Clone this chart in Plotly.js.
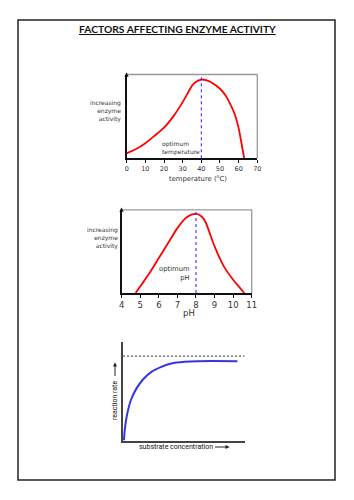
<!DOCTYPE html>
<html>
<head>
<meta charset="utf-8">
<script src="https://cdn.plot.ly/plotly-3.0.1.min.js"></script>
<style>html,body{margin:0;padding:0;background:#fff;}#chart{width:354px;height:500px;}</style>
</head>
<body>
<div id="chart"></div>
<script>
// ---- Data ----
var chartTitle = "FACTORS AFFECTING ENZYME ACTIVITY";

// Temperature chart
var tempC      = [0, 5, 10, 15, 20, 25, 30, 33, 35, 37, 40, 43, 45, 50, 53, 55, 58, 60, 62, 63];
var tempActivity = [6, 11, 18, 27, 36.5, 50, 67, 79, 86.5, 91, 94, 93, 91, 83, 75, 67, 52, 36, 12, 0];
var tempTicks  = [0, 10, 20, 30, 40, 50, 60, 70];
var optimumTemp = 40;

// pH chart
var pHValues   = [4.75, 5, 5.5, 6, 6.5, 7, 7.5, 8, 8.3, 8.5, 9, 9.5, 10, 10.3, 10.6];
var pHActivity = [0, 8, 24, 42, 60, 78, 91, 95, 92, 86, 56, 32, 16, 8, 0];
var pHTicks    = [4, 5, 6, 7, 8, 9, 10, 11];
var optimumPH  = 8;

// Substrate concentration chart (arbitrary units)
var substrateConc = [0.8, 1.4, 2.7, 4.1, 6.8, 11, 16.4, 23.3, 31.5, 39.7, 50.7, 61.6, 94];
var reactionRate  = [0, 10, 22, 30.5, 42, 52.5, 61.7, 69.5, 74.6, 78, 79.7, 80.3, 80.3];
var vmaxLevel     = 85.4;
var vmaxSpan      = [0, 100];

// ---- Layout helpers (pixel -> paper) ----
var W = 354, H = 500;
function px(x){ return x / W; }
function py(y){ return 1 - y / H; }

var tickFontS = {family: "DejaVu Sans", size: 6.5, color: "#333"};
var labelFont = {family: "DejaVu Sans", size: 6, color: "#333"};
var narrow = "Roboto, Liberation Sans, sans-serif";

var traces = [
  {x: tempC, y: tempActivity, xaxis: "x", yaxis: "y", mode: "lines",
   line: {color: "#ff0000", width: 1.8, shape: "spline", smoothing: 0.8}, hoverinfo: "skip"},
  {x: [optimumTemp, optimumTemp], y: [0, 100], xaxis: "x", yaxis: "y", mode: "lines",
   line: {color: "#2020ff", width: 1, dash: "dot"}, hoverinfo: "skip"},
  {x: pHValues, y: pHActivity, xaxis: "x2", yaxis: "y2", mode: "lines",
   line: {color: "#ff0000", width: 1.8, shape: "spline", smoothing: 0.8}, hoverinfo: "skip"},
  {x: [optimumPH, optimumPH], y: [0, 100], xaxis: "x2", yaxis: "y2", mode: "lines",
   line: {color: "#2020ff", width: 1, dash: "dot"}, hoverinfo: "skip"},
  {x: vmaxSpan, y: [vmaxLevel, vmaxLevel], xaxis: "x3", yaxis: "y3", mode: "lines",
   line: {color: "#333", width: 1, dash: "2px,2px"}, hoverinfo: "skip"},
  {x: substrateConc, y: reactionRate, xaxis: "x3", yaxis: "y3", mode: "lines",
   line: {color: "#3535dd", width: 2, shape: "spline", smoothing: 0.8}, hoverinfo: "skip"}
];

function baseX(extra){
  var o = {showgrid: false, zeroline: false, showline: true, linecolor: "#111", linewidth: 1.5,
           ticks: "outside", ticklen: 3, tickcolor: "#111", tickwidth: 1, fixedrange: true};
  for (var k in extra) o[k] = extra[k];
  return o;
}
function baseY(extra){
  var o = {showgrid: false, zeroline: false, showline: true, linecolor: "#111", linewidth: 1.5,
           ticks: "", showticklabels: false, fixedrange: true, range: [0, 100]};
  for (var k in extra) o[k] = extra[k];
  return o;
}

var layout = {
  width: W, height: H,
  margin: {l: 0, r: 0, t: 0, b: 0},
  paper_bgcolor: "#fff", plot_bgcolor: "rgba(0,0,0,0)",
  showlegend: false,
  xaxis: baseX({domain: [px(126.7), px(257.3)], range: [0, 70], tickvals: tempTicks,
                ticktext: tempTicks.map(String), tickfont: tickFontS, anchor: "y"}),
  yaxis: baseY({domain: [py(158.3), py(74.5)], anchor: "x"}),
  xaxis2: baseX({domain: [px(121.7), px(251.7)], range: [4, 11], tickvals: pHTicks,
                 ticktext: pHTicks.map(String),
                 tickfont: {family: "DejaVu Sans", size: 8.5, color: "#333"}, anchor: "y2"}),
  yaxis2: baseY({domain: [py(293), py(209.8)], anchor: "x2"}),
  xaxis3: baseX({domain: [px(123), px(244.7)], range: [0, 100], ticks: "", showticklabels: false,
                 linecolor: "#444", linewidth: 2, anchor: "y3"}),
  yaxis3: baseY({domain: [py(440.5), py(341.7)], linecolor: "#444", linewidth: 2, anchor: "x3"}),
  shapes: [
    // outer page border
    {type: "rect", xref: "paper", yref: "paper", x0: px(18), x1: px(335), y0: py(480), y1: py(20),
     line: {color: "#222", width: 1.5}},
    // grey top/right frame lines for charts 1 and 2
    {type: "line", xref: "x domain", yref: "y domain", x0: 0, x1: 1, y0: 1, y1: 1, line: {color: "#999", width: 1.3}},
    {type: "line", xref: "x domain", yref: "y domain", x0: 1, x1: 1, y0: 0, y1: 1, line: {color: "#999", width: 1.3}},
    {type: "line", xref: "x2 domain", yref: "y2 domain", x0: 0, x1: 1, y0: 1, y1: 1, line: {color: "#999", width: 1.3}},
    {type: "line", xref: "x2 domain", yref: "y2 domain", x0: 1, x1: 1, y0: 0, y1: 1, line: {color: "#999", width: 1.3}}
  ],
  annotations: [
    {text: chartTitle, xref: "paper", yref: "paper", x: px(177), y: py(29), showarrow: false,
     xanchor: "center", yanchor: "middle",
     font: {family: "Lato", size: 10.3, weight: 700, color: "#111", lineposition: "under"}},
    // chart 1 texts
    {text: "increasing<br>enzyme<br>activity", xref: "paper", yref: "paper", x: px(122.5), y: py(111),
     xanchor: "right", yanchor: "middle", align: "right", showarrow: false, font: labelFont},
    {text: "optimum<br>temperature", xref: "paper", yref: "paper", x: px(159.5), y: py(147.7),
     xanchor: "left", yanchor: "middle", align: "left", showarrow: false, font: labelFont},
    {text: "temperature (<sup>o</sup>C)", xref: "paper", yref: "paper", x: px(198), y: py(178),
     xanchor: "center", yanchor: "middle", showarrow: false, font: {family: "DejaVu Sans", size: 6.8, color: "#333"}},
    // chart 2 texts
    {text: "increasing<br>enzyme<br>activity", xref: "paper", yref: "paper", x: px(119.5), y: py(238),
     xanchor: "right", yanchor: "middle", align: "right", showarrow: false, font: labelFont},
    {text: "optimum<br>pH", xref: "paper", yref: "paper", x: px(192.5), y: py(273.3),
     xanchor: "right", yanchor: "middle", align: "right", showarrow: false,
     font: {family: "DejaVu Sans", size: 6.8, color: "#333"}},
    {text: "pH", xref: "paper", yref: "paper", x: px(189), y: py(313),
     xanchor: "center", yanchor: "middle", showarrow: false, font: {family: "DejaVu Sans", size: 8.5, color: "#333"}},
    // chart 3 texts
    {text: "substrate concentration", xref: "paper", yref: "paper", x: px(136.5), y: py(447),
     xanchor: "left", yanchor: "middle", showarrow: false, font: {family: narrow, size: 7, color: "#111"}},
    {text: "reaction rate", xref: "paper", yref: "paper", x: px(115), y: py(401), textangle: -90,
     xanchor: "center", yanchor: "middle", showarrow: false, font: {family: narrow, size: 7, color: "#111"}},
    // arrows
    {text: "", xref: "paper", yref: "paper", x: px(229.5), y: py(447), ax: -16, ay: 0,
     showarrow: true, arrowhead: 2, arrowsize: 0.8, arrowwidth: 1, arrowcolor: "#222"},
    {text: "", xref: "paper", yref: "paper", x: px(115), y: py(362.5), ax: 0, ay: 15,
     showarrow: true, arrowhead: 2, arrowsize: 0.8, arrowwidth: 1, arrowcolor: "#222"},
    {text: "", xref: "paper", yref: "paper", x: px(126.5), y: py(72.5), ax: 0, ay: 6,
     showarrow: true, arrowhead: 2, arrowsize: 0.7, arrowwidth: 1.2, arrowcolor: "#111"},
    {text: "", xref: "paper", yref: "paper", x: px(121.5), y: py(207.5), ax: 0, ay: 6,
     showarrow: true, arrowhead: 2, arrowsize: 0.7, arrowwidth: 1.2, arrowcolor: "#111"}
  ]
};

Plotly.newPlot("chart", traces, layout, {staticPlot: true, displayModeBar: false});
</script>
</body>
</html>
